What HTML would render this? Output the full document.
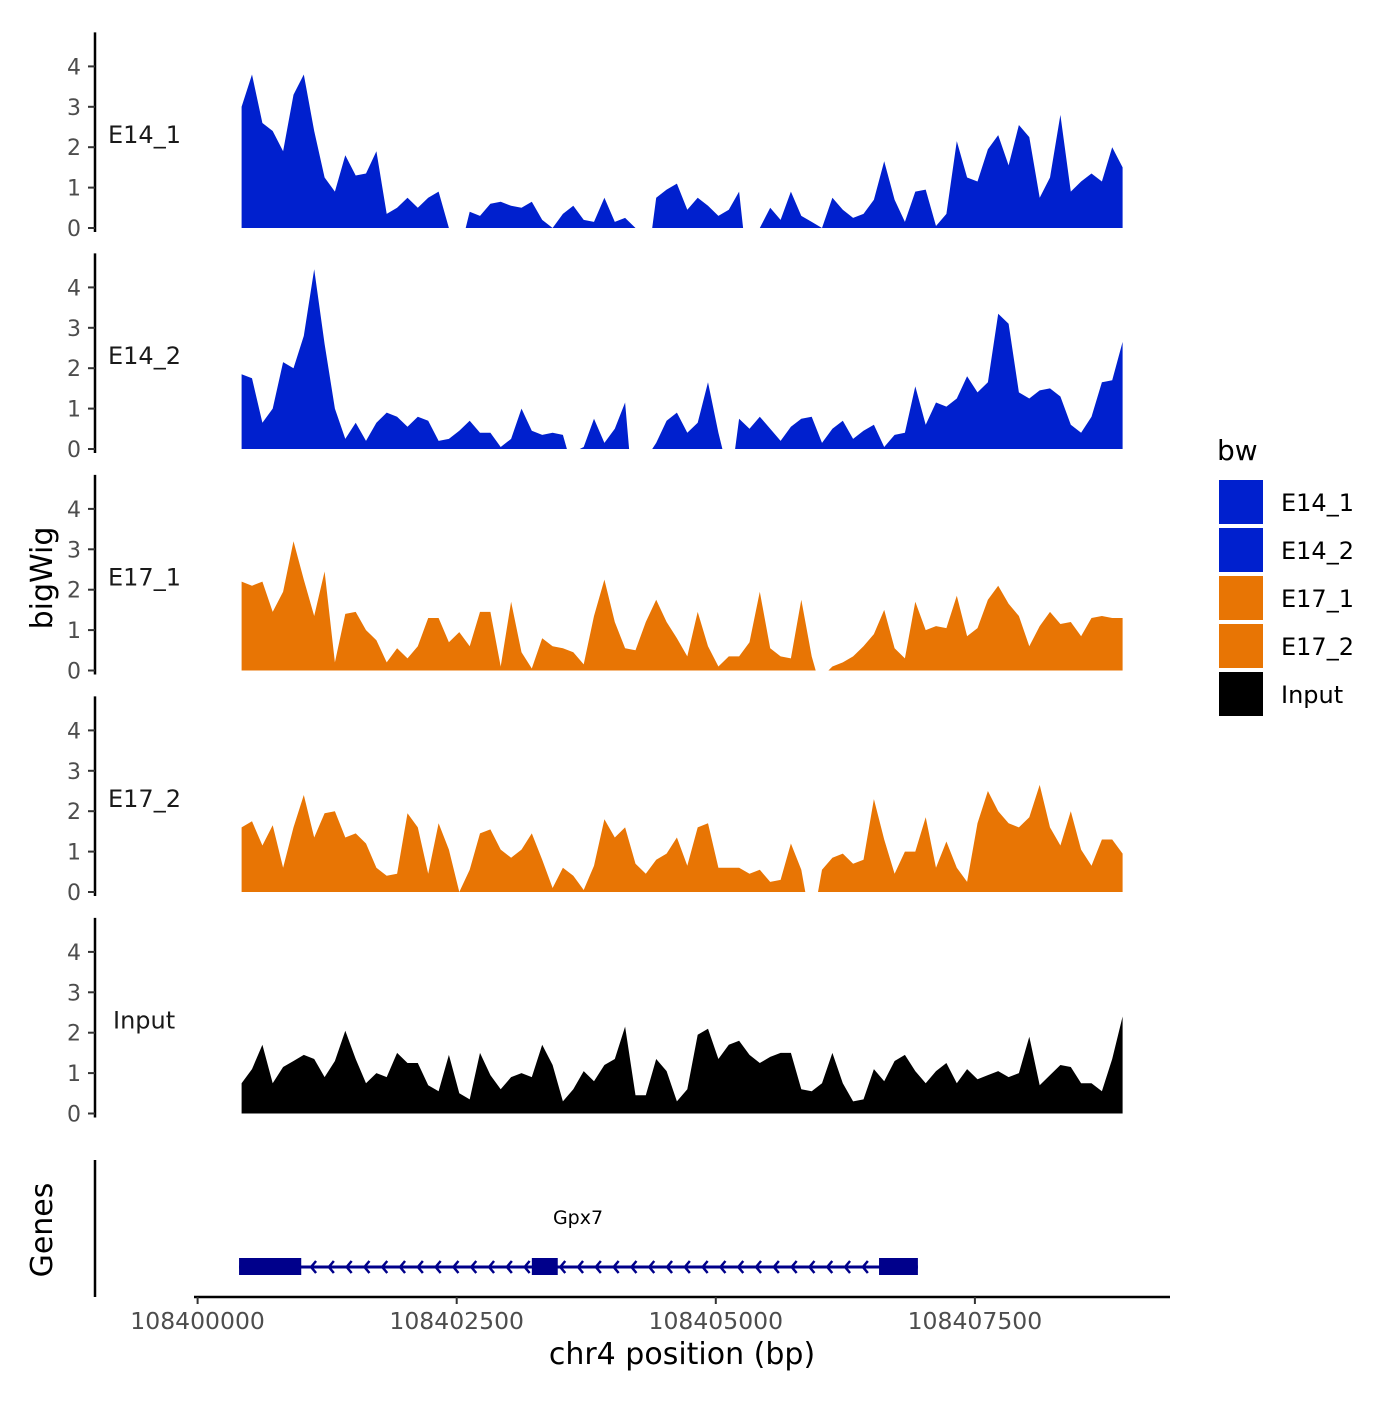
<!DOCTYPE html>
<html><head><meta charset="utf-8"><style>
html,body{margin:0;padding:0;background:#fff;}
svg text{font-family:"DejaVu Sans","Liberation Sans",sans-serif;}
</style></head><body>
<svg id="chart" width="1400" height="1400" viewBox="0 0 1400 1400" xmlns="http://www.w3.org/2000/svg">
<rect width="1400" height="1400" fill="#fff"/>
<g id="tracks"></g>
<g id="axes"></g>
<g id="genes"></g>
<g id="legend"></g>
<text transform="translate(52,578) rotate(-90)" text-anchor="middle" font-size="30">bigWig</text>
<text transform="translate(52,1230) rotate(-90)" text-anchor="middle" font-size="30">Genes</text>
<text x="682" y="1364" text-anchor="middle" font-size="30">chr4 position (bp)</text>
</svg>
<script>
const trackNames = ["E14_1","E14_2","E17_1","E17_2","Input"];
const trackColors = ["#0020CE","#0020CE","#E87504","#E87504","#000000"];
const startBp = 108400425;
const stepBp = 100;
const e14_1 = [3.0,3.8,2.6,2.4,1.9,3.3,3.8,2.4,1.25,0.9,1.8,1.3,1.35,1.9,0.35,0.5,0.75,0.5,0.75,0.9,0,null,0.4,0.3,0.6,0.65,0.55,0.5,0.65,0.2,0,0.35,0.55,0.2,0.15,0.75,0.15,0.25,0,null,0.75,0.95,1.1,0.45,0.75,0.55,0.3,0.45,0.9,null,0,0.5,0.2,0.9,0.3,0.15,0,0.75,0.45,0.25,0.35,0.7,1.65,0.7,0.15,0.9,0.95,0.05,0.35,2.15,1.25,1.15,1.95,2.3,1.55,2.55,2.25,0.75,1.25,2.8,0.9,1.15,1.35,1.15,2.0,1.5];
const e14_2 = [1.85,1.75,0.65,1.0,2.15,2.0,2.8,4.45,2.6,1.0,0.25,0.65,0.2,0.65,0.9,0.8,0.55,0.8,0.7,0.2,0.25,0.45,0.7,0.4,0.4,0.05,0.25,1.0,0.45,0.35,0.4,0.35,null,0.05,0.75,0.15,0.5,1.15,null,null,0.15,0.7,0.9,0.4,0.65,1.65,0.4,null,0.75,0.5,0.8,0.5,0.2,0.55,0.75,0.8,0.15,0.5,0.7,0.25,0.45,0.6,0.05,0.35,0.4,1.55,0.6,1.15,1.05,1.25,1.8,1.4,1.65,3.35,3.1,1.4,1.25,1.45,1.5,1.3,0.6,0.4,0.8,1.65,1.7,2.65];
const e17_1 = [2.2,2.1,2.2,1.45,1.95,3.2,2.25,1.35,2.45,0.2,1.4,1.45,1.0,0.75,0.2,0.55,0.3,0.6,1.3,1.3,0.7,0.95,0.6,1.45,1.45,0.1,1.7,0.45,0.05,0.8,0.6,0.55,0.45,0.15,1.35,2.25,1.2,0.55,0.5,1.2,1.75,1.2,0.8,0.35,1.45,0.6,0.1,0.35,0.35,0.7,1.95,0.55,0.35,0.3,1.75,0.35,null,0.1,0.2,0.35,0.6,0.9,1.5,0.55,0.3,1.7,1.0,1.1,1.05,1.85,0.85,1.05,1.75,2.1,1.65,1.35,0.6,1.1,1.45,1.15,1.2,0.85,1.3,1.35,1.3,1.3];
const e17_2 = [1.6,1.75,1.15,1.65,0.6,1.6,2.4,1.35,1.95,2.0,1.35,1.45,1.2,0.6,0.4,0.45,1.95,1.6,0.45,1.7,1.05,0,0.55,1.45,1.55,1.05,0.85,1.05,1.45,0.8,0.1,0.6,0.4,0.05,0.65,1.8,1.35,1.6,0.7,0.45,0.8,0.95,1.35,0.65,1.6,1.7,0.6,0.6,0.6,0.45,0.55,0.25,0.3,1.2,0.55,null,0.55,0.85,0.95,0.7,0.8,2.3,1.3,0.45,1.0,1.0,1.85,0.6,1.25,0.6,0.25,1.7,2.5,2.0,1.7,1.6,1.85,2.65,1.6,1.15,2.0,1.05,0.65,1.3,1.3,0.95];
const input = [0.75,1.1,1.7,0.75,1.15,1.3,1.45,1.35,0.9,1.3,2.05,1.35,0.75,1.0,0.9,1.5,1.25,1.25,0.7,0.55,1.45,0.5,0.35,1.5,0.95,0.6,0.9,1.0,0.9,1.7,1.2,0.3,0.6,1.05,0.8,1.2,1.35,2.15,0.45,0.45,1.35,1.05,0.3,0.6,1.95,2.1,1.35,1.7,1.8,1.45,1.25,1.4,1.5,1.5,0.6,0.55,0.75,1.5,0.75,0.3,0.35,1.1,0.8,1.3,1.45,1.05,0.75,1.05,1.25,0.75,1.1,0.85,0.95,1.05,0.9,1.0,1.9,0.7,0.95,1.2,1.15,0.75,0.75,0.55,1.35,2.4];
const trackValues = [e14_1,e14_2,e17_1,e17_2,input];
const yTicks = [0,1,2,3,4];
const xTicks = [108400000,108402500,108405000,108407500];
const geneName = "Gpx7";
const geneStart = 108400400;
const geneEnd = 108406950;
const exonStarts = [108400400,108403225,108406575];
const exonEnds = [108401000,108403475,108406950];

const NS="http://www.w3.org/2000/svg";
function mk(tag,attrs,parent){const e=document.createElementNS(NS,tag);for(const k in attrs)e.setAttribute(k,attrs[k]);parent.appendChild(e);return e;}
const xScale = bp => 197.6 + (bp-108400000)*0.10364;
const zeroY = [228,449,670.5,892,1113.5];
const unit = 40.4;
const yScale = (t,v) => zeroY[t] - v*unit;

const tracks=document.getElementById('tracks');
const axes=document.getElementById('axes');
trackNames.forEach((name,t)=>{
  const g=mk('g',{},tracks);
  
  
  const vals=trackValues[t];
  let seg=[];
  const segs=[];
  vals.forEach((v,i)=>{
    const bp=startBp+i*stepBp;
    if(v===null){ if(seg.length) segs.push(seg); seg=[]; }
    else seg.push([xScale(bp),yScale(t,v)]);
  });
  if(seg.length) segs.push(seg);
  segs.forEach((s,si)=>{
    const x0 = si>0 ? s[0][0]-4 : s[0][0];
    const x1 = si<segs.length-1 ? s[s.length-1][0]+4 : s[s.length-1][0];
    let d='M'+x0.toFixed(1)+','+zeroY[t];
    s.forEach(p=>{d+=' L'+p[0].toFixed(1)+','+p[1].toFixed(1);});
    d+=' L'+x1.toFixed(1)+','+zeroY[t]+' Z';
    const p=mk('path',{d:d,fill:trackColors[t]},g);
    
    
  });
  const top=yScale(t,4)-34;
  const al=mk('line',{x1:95,x2:95,y1:top,y2:zeroY[t]+4,stroke:'#000','stroke-width':2.5},axes);
  
  
  yTicks.forEach(v=>{
    const y=yScale(t,v);
    const tk=mk('line',{x1:88,x2:95,y1:y,y2:y,stroke:'#333','stroke-width':2},axes);
    
    
    const tl=mk('text',{x:81,y:y+8,'text-anchor':'end','font-size':22,fill:'#4d4d4d'},axes);
    tl.textContent=v;
    
    
  });
  const lab=mk('text',{x:(name==='Input'?113:108),y:zeroY[t]-85,'font-size':24,fill:'#1a1a1a'},axes);
  lab.textContent=name;
  
  
});

const ga=mk('line',{x1:95,x2:95,y1:1160,y2:1297,stroke:'#000','stroke-width':2.5},axes);


const xa=mk('line',{x1:194,x2:1170,y1:1297,y2:1297,stroke:'#000','stroke-width':2.5},axes);


xTicks.forEach(bp=>{
  const x=xScale(bp);
  const tk=mk('line',{x1:x,x2:x,y1:1297,y2:1304,stroke:'#333','stroke-width':2},axes);
  
  
  const tl=mk('text',{x:x,y:1329,'text-anchor':'middle','font-size':23.5,fill:'#4d4d4d'},axes);
  tl.textContent=bp;
  
  
});

const genes=document.getElementById('genes');
const gx1=xScale(geneStart), gx2=xScale(geneEnd);
const gl=mk('line',{x1:gx1,x2:gx2,y1:1267,y2:1267,stroke:'#00008B','stroke-width':3},genes);


for(let x=gx1+72;x<gx2-40;x+=17.8){
  const c=mk('path',{d:`M${x+5},${1261} L${x},${1267} L${x+5},${1273}`,fill:'none',stroke:'#00008B','stroke-width':2.5},genes);
  
  
}
exonStarts.forEach((s,i)=>{
  const r=mk('rect',{x:xScale(s),y:1258,width:xScale(exonEnds[i])-xScale(s),height:17,fill:'#00008B'},genes);
  
  
});
const gt=mk('text',{x:578,y:1224,'text-anchor':'middle','font-size':19,fill:'#000'},genes);
gt.textContent=geneName;



const lg=document.getElementById('legend');
const lt=mk('text',{x:1217,y:460,'font-size':28,fill:'#000'},lg);
lt.textContent='bw';


trackNames.forEach((name,i)=>{
  const y=480+i*48;
  const r=mk('rect',{x:1219,y:y,width:44,height:44,fill:trackColors[i]},lg);
  
  
  const t=mk('text',{x:1281,y:y+31,'font-size':24,fill:'#000'},lg);
  t.textContent=name;
  
  
});
</script>
</body></html>
